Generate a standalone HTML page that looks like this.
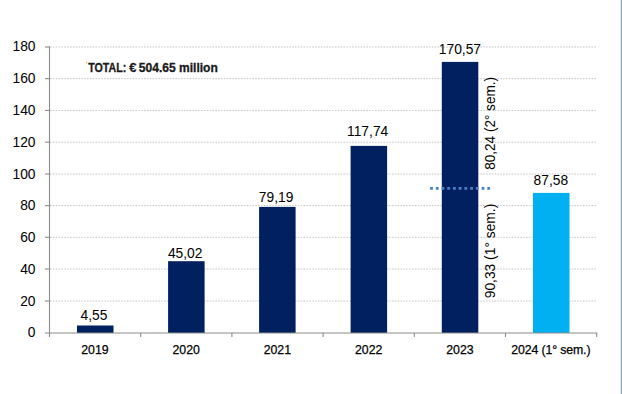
<!DOCTYPE html>
<html><head><meta charset="utf-8"><style>
html,body{margin:0;padding:0;background:#fff;width:622px;height:394px;overflow:hidden}
svg{display:block}
text{font-family:"Liberation Sans",sans-serif;fill:#000}
.ax{font-size:13.8px}
.dl{font-size:13.8px}
.cl{font-size:12.3px;stroke:#000;stroke-width:0.25px}
.rl{font-size:13.8px}
.tot{font-size:12px;font-weight:bold;fill:#1a1a1a;stroke:#1a1a1a;stroke-width:0.3px}
</style></head><body>
<svg width="622" height="394" viewBox="0 0 622 394">
<line x1="50" y1="301.00" x2="597" y2="301.00" stroke="#c6c6c6" stroke-width="1" stroke-dasharray="1.6 1.25"/>
<line x1="50" y1="269.00" x2="597" y2="269.00" stroke="#c6c6c6" stroke-width="1" stroke-dasharray="1.6 1.25"/>
<line x1="50" y1="237.30" x2="597" y2="237.30" stroke="#c6c6c6" stroke-width="1" stroke-dasharray="1.6 1.25"/>
<line x1="50" y1="205.60" x2="597" y2="205.60" stroke="#c6c6c6" stroke-width="1" stroke-dasharray="1.6 1.25"/>
<line x1="50" y1="174.00" x2="597" y2="174.00" stroke="#c6c6c6" stroke-width="1" stroke-dasharray="1.6 1.25"/>
<line x1="50" y1="142.15" x2="597" y2="142.15" stroke="#c6c6c6" stroke-width="1" stroke-dasharray="1.6 1.25"/>
<line x1="50" y1="110.40" x2="597" y2="110.40" stroke="#c6c6c6" stroke-width="1" stroke-dasharray="1.6 1.25"/>
<line x1="50" y1="78.65" x2="597" y2="78.65" stroke="#c6c6c6" stroke-width="1" stroke-dasharray="1.6 1.25"/>
<line x1="50" y1="47.00" x2="597" y2="47.00" stroke="#c6c6c6" stroke-width="1" stroke-dasharray="1.6 1.25"/>
<rect x="77.00" y="325.50" width="36.5" height="7.50" fill="#002060"/>
<rect x="168.10" y="261.20" width="36.5" height="71.80" fill="#002060"/>
<rect x="259.10" y="206.90" width="36.5" height="126.10" fill="#002060"/>
<rect x="350.60" y="145.90" width="36.5" height="187.10" fill="#002060"/>
<rect x="441.80" y="61.90" width="36.5" height="271.10" fill="#002060"/>
<rect x="533.00" y="192.90" width="36.5" height="140.10" fill="#00B0F0"/>
<line x1="45" y1="301.00" x2="50" y2="301.00" stroke="#8c8c8c" stroke-width="1.1"/>
<line x1="45" y1="269.00" x2="50" y2="269.00" stroke="#8c8c8c" stroke-width="1.1"/>
<line x1="45" y1="237.30" x2="50" y2="237.30" stroke="#8c8c8c" stroke-width="1.1"/>
<line x1="45" y1="205.60" x2="50" y2="205.60" stroke="#8c8c8c" stroke-width="1.1"/>
<line x1="45" y1="174.00" x2="50" y2="174.00" stroke="#8c8c8c" stroke-width="1.1"/>
<line x1="45" y1="142.15" x2="50" y2="142.15" stroke="#8c8c8c" stroke-width="1.1"/>
<line x1="45" y1="110.40" x2="50" y2="110.40" stroke="#8c8c8c" stroke-width="1.1"/>
<line x1="45" y1="78.65" x2="50" y2="78.65" stroke="#8c8c8c" stroke-width="1.1"/>
<line x1="45" y1="47.00" x2="50" y2="47.00" stroke="#8c8c8c" stroke-width="1.1"/>
<line x1="49.5" y1="46.50" x2="49.5" y2="337" stroke="#8c8c8c" stroke-width="1.1"/>
<line x1="45" y1="333.0" x2="597.2" y2="333.0" stroke="#8c8c8c" stroke-width="1.1"/>
<line x1="49.50" y1="333.0" x2="49.50" y2="337" stroke="#8c8c8c" stroke-width="1.1"/>
<line x1="140.70" y1="333.0" x2="140.70" y2="337" stroke="#8c8c8c" stroke-width="1.1"/>
<line x1="231.90" y1="333.0" x2="231.90" y2="337" stroke="#8c8c8c" stroke-width="1.1"/>
<line x1="323.10" y1="333.0" x2="323.10" y2="337" stroke="#8c8c8c" stroke-width="1.1"/>
<line x1="414.30" y1="333.0" x2="414.30" y2="337" stroke="#8c8c8c" stroke-width="1.1"/>
<line x1="505.50" y1="333.0" x2="505.50" y2="337" stroke="#8c8c8c" stroke-width="1.1"/>
<line x1="596.70" y1="333.0" x2="596.70" y2="337" stroke="#8c8c8c" stroke-width="1.1"/>
<text x="35.5" y="337" text-anchor="end" class="ax">0</text>
<text x="35.5" y="306" text-anchor="end" class="ax">20</text>
<text x="35.5" y="274" text-anchor="end" class="ax">40</text>
<text x="35.5" y="242" text-anchor="end" class="ax">60</text>
<text x="35.5" y="210" text-anchor="end" class="ax">80</text>
<text x="35.5" y="179" text-anchor="end" class="ax">100</text>
<text x="35.5" y="147" text-anchor="end" class="ax">120</text>
<text x="35.5" y="115" text-anchor="end" class="ax">140</text>
<text x="35.5" y="83" text-anchor="end" class="ax">160</text>
<text x="35.5" y="51" text-anchor="end" class="ax">180</text>
<text x="94.00" y="319.80" text-anchor="middle" class="dl">4,55</text>
<text x="185.15" y="258.00" text-anchor="middle" class="dl">45,02</text>
<text x="276.10" y="202.10" text-anchor="middle" class="dl">79,19</text>
<text x="367.65" y="136.30" text-anchor="middle" class="dl">117,74</text>
<text x="459.95" y="54.10" text-anchor="middle" class="dl">170,57</text>
<text x="550.85" y="184.80" text-anchor="middle" class="dl">87,58</text>
<text x="94.92" y="354" text-anchor="middle" class="cl">2019</text>
<text x="186.20" y="354" text-anchor="middle" class="cl">2020</text>
<text x="277.35" y="354" text-anchor="middle" class="cl">2021</text>
<text x="368.70" y="354" text-anchor="middle" class="cl">2022</text>
<text x="459.90" y="354" text-anchor="middle" class="cl">2023</text>
<text x="550.85" y="354" text-anchor="middle" class="cl" style="letter-spacing:-0.12px">2024 (1° sem.)</text>
<text transform="translate(495,123.4) rotate(-90)" text-anchor="middle" class="rl" textLength="92.8" lengthAdjust="spacingAndGlyphs">80,24 (2° sem.)</text>
<text transform="translate(495,251) rotate(-90)" text-anchor="middle" class="rl">90,33 (1° sem.)</text>
<line x1="430.1" y1="188.4" x2="490.3" y2="188.4" stroke="#4a80c4" stroke-width="2.8" stroke-dasharray="2.8 2.92"/>
<text y="71.6" class="tot"><tspan x="88.3" textLength="38" lengthAdjust="spacingAndGlyphs">TOTAL:</tspan><tspan x="129.2" textLength="7.2" lengthAdjust="spacingAndGlyphs">€</tspan><tspan x="138.8" textLength="37" lengthAdjust="spacingAndGlyphs">504.65</tspan><tspan x="179" textLength="38.8" lengthAdjust="spacingAndGlyphs">million</tspan></text>
<rect x="86" y="61.5" width="1" height="2" fill="#f0b060"/>
<rect x="620" y="0" width="1" height="394" fill="#e2e9f2"/><rect x="621" y="0" width="1" height="394" fill="#8ea7c6"/>
</svg></body></html>
